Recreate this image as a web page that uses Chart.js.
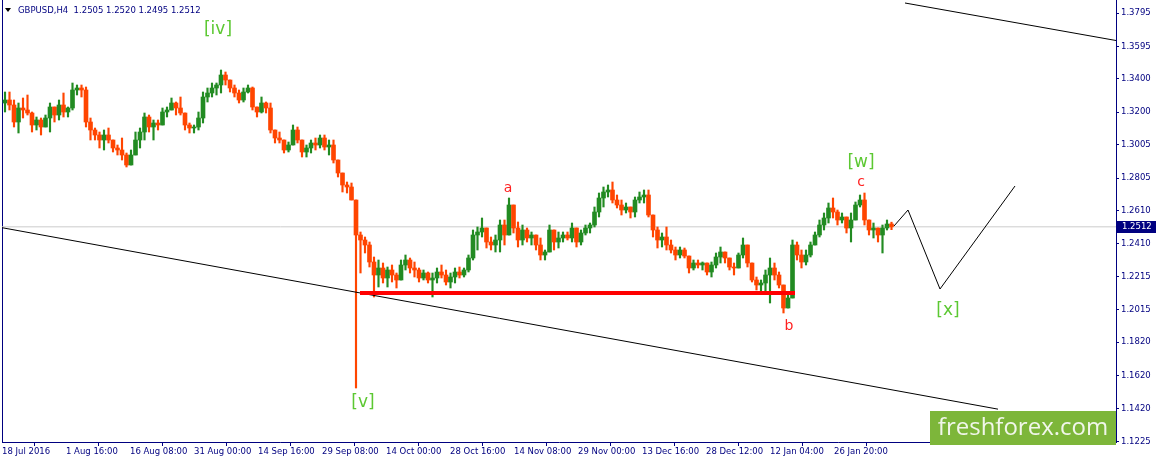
<!DOCTYPE html>
<html>
<head>
<meta charset="utf-8">
<script src="https://cdn.jsdelivr.net/npm/chart.js@4.4.1/dist/chart.umd.min.js"></script>
<style>
  html, body { margin: 0; padding: 0; background: #fff; }
</style>
</head>
<body>
<canvas id="gbpusd" width="1156" height="464"></canvas>
<script>
// --- data ---
const timeLabels = ['18 Jul 2016', '1 Aug 16:00', '16 Aug 08:00', '31 Aug 00:00', '14 Sep 16:00',
  '29 Sep 08:00', '14 Oct 00:00', '28 Oct 16:00', '14 Nov 08:00', '29 Nov 00:00',
  '13 Dec 16:00', '28 Dec 12:00', '12 Jan 04:00', '26 Jan 20:00'];
const priceTicks = [1.3795, 1.3595, 1.3400, 1.3200, 1.3005, 1.2805, 1.2610,
  1.2410, 1.2215, 1.2015, 1.1820, 1.1620, 1.1420, 1.1225];

const firstOpen = 1.3255;
const highs = [
  1.3321, 1.3321, 1.3273, 1.3255, 1.3285, 1.3303, 1.3201, 1.3171, 1.3165, 1.3183,
  1.3255, 1.3231, 1.3273, 1.3315, 1.3231, 1.3375, 1.3363, 1.3363, 1.3351, 1.3165,
  1.3105, 1.3081, 1.3093, 1.3105, 1.3033, 1.3003, 1.3045, 1.2955, 1.2973, 1.3081,
  1.3105, 1.3195, 1.3183, 1.3153, 1.3153, 1.3225, 1.3231, 1.3285, 1.3261, 1.3291,
  1.3195, 1.3135, 1.3123, 1.3201, 1.3321, 1.3345, 1.3375, 1.3375, 1.3453, 1.3441,
  1.3393, 1.3363, 1.3333, 1.3345, 1.3363, 1.3351, 1.3231, 1.3291, 1.3261, 1.3255,
  1.3093, 1.3081, 1.3033, 1.3021, 1.3123, 1.3111, 1.3033, 1.3003, 1.3033, 1.3045,
  1.3063, 1.3063, 1.3033, 1.3033, 1.2913, 1.2835, 1.2781, 1.2775, 1.2673, 1.2481,
  1.2451, 1.2421, 1.2331, 1.2313, 1.2295, 1.2271, 1.2283, 1.2235, 1.2313, 1.2343,
  1.2325, 1.2301, 1.2265, 1.2253, 1.2241, 1.2235, 1.2265, 1.2283, 1.2253, 1.2235,
  1.2265, 1.2271, 1.2265, 1.2343, 1.2493, 1.2511, 1.2565, 1.2505, 1.2451, 1.2463,
  1.2553, 1.2553, 1.2685, 1.2643, 1.2541, 1.2523, 1.2505, 1.2481, 1.2463, 1.2445,
  1.2373, 1.2523, 1.2493, 1.2481, 1.2481, 1.2481, 1.2535, 1.2505, 1.2493, 1.2523,
  1.2535, 1.2631, 1.2715, 1.2751, 1.2763, 1.2781, 1.2703, 1.2673, 1.2655, 1.2631,
  1.2691, 1.2721, 1.2733, 1.2733, 1.2583, 1.2511, 1.2475, 1.2511, 1.2433, 1.2391,
  1.2391, 1.2385, 1.2337, 1.2313, 1.2313, 1.2301, 1.2295, 1.2301, 1.2355, 1.2391,
  1.2361, 1.2325, 1.2295, 1.2355, 1.2445, 1.2403, 1.2295, 1.2211, 1.2193, 1.2253,
  1.2325, 1.2295, 1.2241, 1.2163, 1.2103, 1.2433, 1.2421, 1.2373, 1.2373, 1.2421,
  1.2481, 1.2553, 1.2595, 1.2655, 1.2685, 1.2613, 1.2595, 1.2571, 1.2595, 1.2661,
  1.2703, 1.2715, 1.2553, 1.2535, 1.2505, 1.2523, 1.2553, 1.2540
];
const lows = [
  1.3201, 1.3213, 1.3111, 1.3075, 1.3165, 1.3183, 1.3081, 1.3093, 1.3063, 1.3111,
  1.3081, 1.3141, 1.3153, 1.3171, 1.3171, 1.3213, 1.3303, 1.3291, 1.3111, 1.3033,
  1.3033, 1.2985, 1.2973, 1.3015, 1.2961, 1.2943, 1.2913, 1.2871, 1.2883, 1.2943,
  1.2985, 1.3033, 1.3081, 1.3033, 1.3093, 1.3123, 1.3171, 1.3213, 1.3183, 1.3183,
  1.3093, 1.3075, 1.3075, 1.3093, 1.3135, 1.3261, 1.3291, 1.3303, 1.3315, 1.3363,
  1.3321, 1.3291, 1.3255, 1.3261, 1.3315, 1.3213, 1.3171, 1.3195, 1.3195, 1.3075,
  1.3015, 1.3015, 1.2955, 1.2961, 1.3003, 1.3015, 1.2931, 1.2931, 1.2955, 1.2973,
  1.2985, 1.2973, 1.2943, 1.2895, 1.2811, 1.2721, 1.2715, 1.2673, 1.1545, 1.2235,
  1.2355, 1.2271, 1.2091, 1.2151, 1.2175, 1.2151, 1.2181, 1.2145, 1.2193, 1.2253,
  1.2235, 1.2211, 1.2181, 1.2193, 1.2175, 1.2091, 1.2175, 1.2205, 1.2163, 1.2145,
  1.2175, 1.2205, 1.2211, 1.2241, 1.2313, 1.2373, 1.2451, 1.2385, 1.2373, 1.2361,
  1.2361, 1.2403, 1.2463, 1.2475, 1.2391, 1.2403, 1.2421, 1.2403, 1.2373, 1.2313,
  1.2313, 1.2361, 1.2373, 1.2385, 1.2421, 1.2433, 1.2421, 1.2391, 1.2403, 1.2463,
  1.2475, 1.2511, 1.2571, 1.2631, 1.2691, 1.2655, 1.2625, 1.2583, 1.2595, 1.2565,
  1.2571, 1.2655, 1.2655, 1.2571, 1.2451, 1.2385, 1.2391, 1.2373, 1.2355, 1.2313,
  1.2325, 1.2325, 1.2235, 1.2253, 1.2265, 1.2253, 1.2223, 1.2211, 1.2265, 1.2295,
  1.2295, 1.2253, 1.2223, 1.2265, 1.2325, 1.2271, 1.2181, 1.2133, 1.2121, 1.2115,
  1.2055, 1.2193, 1.2145, 1.1995, 1.2025, 1.2085, 1.2313, 1.2265, 1.2283, 1.2331,
  1.2403, 1.2451, 1.2493, 1.2535, 1.2565, 1.2523, 1.2535, 1.2475, 1.2421, 1.2553,
  1.2631, 1.2523, 1.2463, 1.2445, 1.2421, 1.2355, 1.2493, 1.2495
];
const closes = [
  1.3273, 1.3243, 1.3141, 1.3225, 1.3213, 1.3195, 1.3123, 1.3153, 1.3111, 1.3165,
  1.3231, 1.3183, 1.3243, 1.3201, 1.3225, 1.3333, 1.3345, 1.3333, 1.3141, 1.3093,
  1.3063, 1.3033, 1.3063, 1.3033, 1.2985, 1.2973, 1.2943, 1.2883, 1.2943, 1.3033,
  1.3081, 1.3171, 1.3111, 1.3135, 1.3123, 1.3201, 1.3213, 1.3255, 1.3225, 1.3195,
  1.3123, 1.3105, 1.3111, 1.3165, 1.3291, 1.3315, 1.3345, 1.3363, 1.3423, 1.3393,
  1.3345, 1.3315, 1.3273, 1.3321, 1.3345, 1.3231, 1.3201, 1.3255, 1.3225, 1.3093,
  1.3045, 1.3033, 1.2973, 1.3003, 1.3093, 1.3033, 1.2961, 1.2985, 1.3015, 1.3003,
  1.3045, 1.2991, 1.3003, 1.2913, 1.2835, 1.2763, 1.2751, 1.2673, 1.2463, 1.2433,
  1.2403, 1.2301, 1.2223, 1.2265, 1.2205, 1.2253, 1.2223, 1.2193, 1.2283, 1.2313,
  1.2265, 1.2253, 1.2205, 1.2235, 1.2193, 1.2205, 1.2241, 1.2223, 1.2181, 1.2211,
  1.2241, 1.2223, 1.2253, 1.2325, 1.2463, 1.2481, 1.2505, 1.2421, 1.2403, 1.2433,
  1.2523, 1.2463, 1.2643, 1.2505, 1.2433, 1.2493, 1.2445, 1.2463, 1.2403, 1.2343,
  1.2361, 1.2493, 1.2421, 1.2445, 1.2463, 1.2445, 1.2505, 1.2421, 1.2475, 1.2505,
  1.2523, 1.2601, 1.2685, 1.2721, 1.2733, 1.2673, 1.2643, 1.2613, 1.2631, 1.2601,
  1.2673, 1.2691, 1.2703, 1.2583, 1.2493, 1.2433, 1.2451, 1.2403, 1.2373, 1.2343,
  1.2373, 1.2337, 1.2265, 1.2295, 1.2283, 1.2295, 1.2241, 1.2283, 1.2331, 1.2361,
  1.2325, 1.2271, 1.2265, 1.2343, 1.2403, 1.2295, 1.2193, 1.2163, 1.2175, 1.2223,
  1.2265, 1.2223, 1.2163, 1.2025, 1.2085, 1.2403, 1.2343, 1.2301, 1.2343, 1.2403,
  1.2463, 1.2523, 1.2565, 1.2625, 1.2601, 1.2553, 1.2571, 1.2505, 1.2553, 1.2643,
  1.2673, 1.2553, 1.2493, 1.2505, 1.2463, 1.2505, 1.2529, 1.2512
];

const lastPrice = 1.2512;
const titleText = 'GBPUSD,H4  1.2505 1.2520 1.2495 1.2512';

// drawn objects on the chart (bar index, price)
const upperChannel = [{ x: 903, y: 1.3855 }, { x: 1114, y: 1.3630 }];
const lowerChannel = [{ x: -2, y: 1.2509 }, { x: 996, y: 1.1418 }];
const supportLine = [{ x: 358, y: 1.2115 }, { x: 793, y: 1.2115 }];
const projection = [{ x: 892, y: 1.2517 }, { x: 906, y: 1.2613 }, { x: 938, y: 1.2139 }, { x: 1013, y: 1.2757 }];

const waveText = ['[iv]', '[v]', 'a', 'b', 'c', '[w]', '[x]'];
const waveBar = [216, 361, 506, 787, 859, 859, 946];
const wavePrice = [1.3695, 1.1455, 1.2745, 1.1917, 1.2781, 1.2895, 1.2007];

// --- styling ---
const NAVY = '#000080';
const UP = '#228b22';
const DOWN = '#ff4500';
const candleSpan = 4.5;      // H4 bars per drawn candle
const tickFont = { family: 'DejaVu Sans', size: 8.5 };

const candleX = closes.map((c, i) => 3 + i * candleSpan);
const opens = closes.map((c, i) => (i === 0 ? firstOpen : closes[i - 1]));
const barColors = closes.map((c, i) => (c > opens[i] ? UP : c < opens[i] ? DOWN : '#000000'));

const overlay = {
  id: 'overlay',
  beforeDatasetsDraw(chart) {
    const { ctx, chartArea } = chart;
    ctx.save();
    ctx.strokeStyle = NAVY;
    ctx.lineWidth = 1;
    ctx.beginPath();
    ctx.moveTo(chartArea.left + 0.5, chartArea.top);
    ctx.lineTo(chartArea.left + 0.5, chartArea.bottom);
    ctx.stroke();
    ctx.restore();
  },
  afterDraw(chart) {
    const { ctx, chartArea, scales: { x, y } } = chart;
    ctx.save();

    // wave labels
    ctx.textAlign = 'center';
    ctx.textBaseline = 'middle';
    waveText.forEach((t, i) => {
      const bracket = t.startsWith('[');
      ctx.font = bracket ? '17px "DejaVu Sans"' : '14px "DejaVu Sans"';
      ctx.fillStyle = bracket ? '#5cc832' : '#ff2020';
      ctx.fillText(t, x.getPixelForValue(waveBar[i]), y.getPixelForValue(wavePrice[i]));
    });

    // symbol line
    ctx.fillStyle = '#000000';
    ctx.beginPath();
    ctx.moveTo(5, 8); ctx.lineTo(11, 8); ctx.lineTo(8, 12); ctx.closePath();
    ctx.fill();
    ctx.font = '8.5px "DejaVu Sans"';
    ctx.fillStyle = NAVY;
    ctx.textAlign = 'left';
    ctx.fillText(titleText, 18, 10.5);

    // current price box on the axis
    const py = Math.round(y.getPixelForValue(lastPrice));
    ctx.fillStyle = NAVY;
    ctx.fillRect(chartArea.right + 1, py - 6, 40, 12);
    ctx.fillStyle = '#ffffff';
    ctx.fillText(lastPrice.toFixed(4), chartArea.right + 6, py);

    // watermark
    ctx.fillStyle = '#7db63a';
    ctx.fillRect(930, 411, 186, 34);
    ctx.fillStyle = '#f1f6ea';
    ctx.font = '24px "Open Sans"';
    ctx.textAlign = 'center';
    ctx.fillText('freshforex.com', 1023, 428);
    ctx.restore();
  }
};

new Chart(document.getElementById('gbpusd'), {
  data: {
    datasets: [
      {
        type: 'line', label: 'price', order: 10,
        data: [{ x: 0, y: lastPrice }, { x: 1114, y: lastPrice }],
        borderColor: '#cccccc', borderWidth: 1, pointRadius: 0
      },
      {
        type: 'bar', label: 'range', order: 6, grouped: false,
        data: closes.map((c, i) => ({ x: candleX[i], y: [lows[i], highs[i]] })),
        backgroundColor: barColors, borderWidth: 0, barThickness: 1.5
      },
      {
        type: 'bar', label: 'body', order: 5, grouped: false,
        data: closes.map((c, i) => ({ x: candleX[i], y: [opens[i], c] })),
        backgroundColor: barColors, borderWidth: 0, barThickness: 4
      },
      {
        type: 'line', label: 'upper', order: 2, data: upperChannel,
        borderColor: '#000000', borderWidth: 1, pointRadius: 0
      },
      {
        type: 'line', label: 'lower', order: 2, data: lowerChannel,
        borderColor: '#000000', borderWidth: 1, pointRadius: 0
      },
      {
        type: 'line', label: 'projection', order: 2, data: projection,
        borderColor: '#000000', borderWidth: 1, pointRadius: 0
      },
      {
        type: 'line', label: 'support', order: 1, data: supportLine,
        borderColor: '#ff0000', borderWidth: 4, pointRadius: 0
      }
    ]
  },
  options: {
    responsive: false,
    animation: false,
    devicePixelRatio: 1,
    layout: { padding: { left: 2, top: 0, right: 0, bottom: 0 } },
    plugins: { legend: { display: false }, tooltip: { enabled: false } },
    scales: {
      x: {
        type: 'linear', min: 0, max: 1114, offset: false,
        afterBuildTicks: s => { s.ticks = timeLabels.map((t, i) => ({ value: i * 64 })); },
        afterFit: s => { s.height = 22; s.paddingLeft = 0; s.paddingRight = 0; },
        grid: { drawOnChartArea: false, tickLength: 4, color: NAVY },
        border: { color: NAVY },
        ticks: {
          callback: (v, i) => timeLabels[i], align: 'start', autoSkip: false,
          maxRotation: 0, padding: 1, color: NAVY, font: tickFont
        }
      },
      y: {
        type: 'linear', position: 'right', min: 1.1221, max: 1.3873,
        afterBuildTicks: s => { s.ticks = priceTicks.map(v => ({ value: v })); },
        afterFit: s => { s.width = 40; s.paddingTop = 0; s.paddingBottom = 0; },
        grid: { drawOnChartArea: false, tickLength: 3, color: NAVY },
        border: { color: NAVY },
        ticks: {
          callback: v => v.toFixed(4), padding: 2, color: NAVY, font: tickFont
        }
      }
    }
  },
  plugins: [overlay]
});
</script>
</body>
</html>
